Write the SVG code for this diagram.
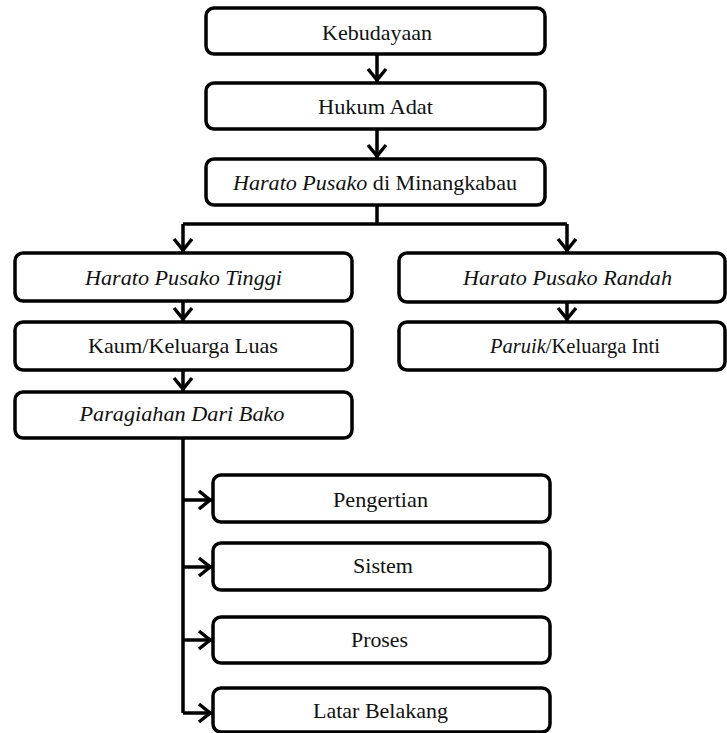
<svg xmlns="http://www.w3.org/2000/svg" width="727" height="733" viewBox="0 0 727 733">
<style>
rect.box{fill:#fff;stroke:#000;stroke-width:3.5;}
text{font-family:'Liberation Serif','Times New Roman','DejaVu Serif',serif;font-size:22px;fill:#111;text-anchor:middle;}
.it{font-style:italic;}
.ln{fill:none;stroke:#000;stroke-width:3.5;stroke-linejoin:miter;}
</style>
<rect width="727" height="733" fill="#fff"/>
<g id="connectors">
<path class="ln" d="M377,54V82M377,129V158M377,205V224M183,224H567M183,224V252M567,224V252M183,301V321M567,302V321M183,370V391M183,438V713M183,500H212M183,567H212M183,640H212M183,713H212"/>
<path class="ln" d="M368,69L377,80L386,69M368,145L377,156L386,145M174,239L183,250L192,239M558,239L567,250L576,239M174,308L183,319L192,308M558,308L567,319L576,308M174,378L183,389L192,378M199,491L210,500L199,509M199,558L210,567L199,576M199,631L210,640L199,649M199,704L210,713L199,722"/>
</g>
<g id="n1"><rect class="box" x="206" y="8" width="339" height="46" rx="8"/><text x="377" y="40" textLength="110" lengthAdjust="spacingAndGlyphs">Kebudayaan</text></g>
<g id="n2"><rect class="box" x="206" y="83" width="339" height="46" rx="8"/><text x="375.5" y="114" textLength="115" lengthAdjust="spacingAndGlyphs">Hukum Adat</text></g>
<g id="n3"><rect class="box" x="206" y="159" width="339" height="46" rx="8"/><text x="375" y="190" textLength="284" lengthAdjust="spacingAndGlyphs"><tspan class="it">Harato Pusako</tspan> di Minangkabau</text></g>
<g id="n4"><rect class="box" x="15" y="253" width="337" height="48" rx="8"/><text class="it" x="183.5" y="285" textLength="197" lengthAdjust="spacingAndGlyphs">Harato Pusako Tinggi</text></g>
<g id="n5"><rect class="box" x="15" y="322" width="337" height="48" rx="8"/><text x="183" y="353" textLength="190" lengthAdjust="spacingAndGlyphs">Kaum/Keluarga Luas</text></g>
<g id="n6"><rect class="box" x="15" y="392" width="337" height="46" rx="8"/><text class="it" x="182" y="421" textLength="205" lengthAdjust="spacingAndGlyphs">Paragiahan Dari Bako</text></g>
<g id="n7"><rect class="box" x="399" y="253" width="326" height="49" rx="8"/><text class="it" x="567.5" y="285" textLength="209" lengthAdjust="spacingAndGlyphs">Harato Pusako Randah</text></g>
<g id="n8"><rect class="box" x="399" y="322" width="326" height="48" rx="8"/><text x="575" y="353" textLength="170" lengthAdjust="spacingAndGlyphs"><tspan class="it">Paruik</tspan>/Keluarga Inti</text></g>
<g id="n9"><rect class="box" x="213" y="475" width="337" height="47" rx="8"/><text x="380.5" y="507" textLength="95" lengthAdjust="spacingAndGlyphs">Pengertian</text></g>
<g id="n10"><rect class="box" x="213" y="543" width="337" height="47" rx="8"/><text x="383" y="573" textLength="60" lengthAdjust="spacingAndGlyphs">Sistem</text></g>
<g id="n11"><rect class="box" x="213" y="617" width="337" height="46" rx="8"/><text x="379.5" y="647" textLength="57" lengthAdjust="spacingAndGlyphs">Proses</text></g>
<g id="n12"><rect class="box" x="213" y="688" width="337" height="44" rx="8"/><text x="380.5" y="718" textLength="135" lengthAdjust="spacingAndGlyphs">Latar Belakang</text></g>
</svg>
